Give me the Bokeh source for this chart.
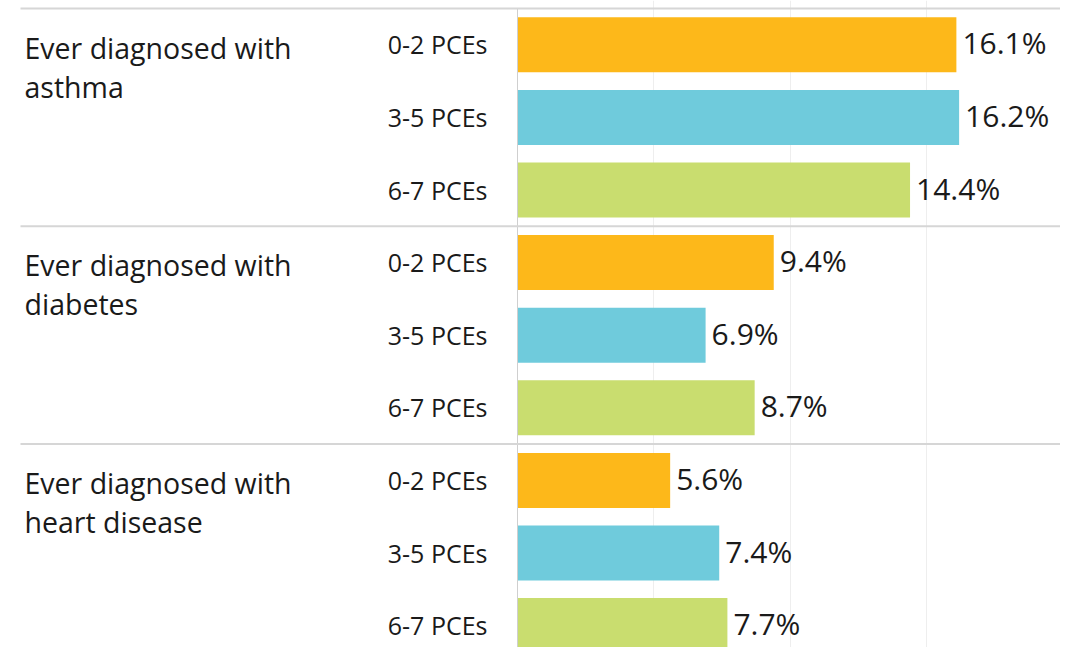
import textwrap
from bokeh.plotting import figure
from bokeh.models import Range1d, Grid, FixedTicker, ColumnDataSource
from bokeh.core.properties import value
from bokeh.embed import file_html
from bokeh.resources import INLINE

# ---- data ----
categories = ["Ever diagnosed with asthma",
              "Ever diagnosed with diabetes",
              "Ever diagnosed with heart disease"]
groups = ["0-2 PCEs", "3-5 PCEs", "6-7 PCEs"]
asthma = [16.1, 16.2, 14.4]
diabetes = [9.4, 6.9, 8.7]
heart_disease = [5.6, 7.4, 7.7]
grid_ticks = [5, 10, 15, 20]
colors = ["#FDB81A", "#6FCBDC", "#C9DD6F"]

series = [asthma, diabetes, heart_disease]

# ---- layout constants ----
W, H = 1060, 647
PX_PER_UNIT = 27.26
ZERO_PX = 517.0
ROW_PX = 72.6
TOP_PX = 8.0
x_start = -ZERO_PX / PX_PER_UNIT
x_end = (W - ZERO_PX) / PX_PER_UNIT
y_top = -TOP_PX / ROW_PX
y_bottom = (H - TOP_PX) / ROW_PX

FONT = "Open Sans"
TEXT_COLOR = "#1a1a1a"

p = figure(width=W, height=H, output_backend="svg", toolbar_location=None,
           x_range=Range1d(x_start, x_end), y_range=Range1d(y_bottom, y_top),
           x_axis_location=None, y_axis_location=None,
           min_border=0, min_border_left=0, min_border_right=0,
           min_border_top=0, min_border_bottom=0)
p.outline_line_color = None
p.grid.visible = False
p.background_fill_color = "white"
p.border_fill_color = "white"

p.add_layout(Grid(dimension=0, ticker=FixedTicker(ticks=grid_ticks),
                  grid_line_color="#eeeeee", grid_line_width=1))

# bars data
bar_y, bar_v, bar_c, bar_lbl, grp_lbl = [], [], [], [], []
for i, vals in enumerate(series):
    for j, v in enumerate(vals):
        bar_y.append(i * 3 + j + 0.5)
        bar_v.append(v)
        bar_c.append(colors[j])
        bar_lbl.append(f"{v:.1f}%")
        grp_lbl.append(groups[j])

src = ColumnDataSource(dict(y=bar_y, v=bar_v, c=bar_c, lbl=bar_lbl, grp=grp_lbl,
                            lx=[v + 6 / PX_PER_UNIT for v in bar_v],
                            ly=[y - 2 / ROW_PX for y in bar_y],
                            gy=[y - 0.5 / ROW_PX for y in bar_y]))

p.hbar(y="y", left=0, right="v", height=55 / ROW_PX, fill_color="c", line_color=None, source=src)

# axis line at zero
p.segment(x0=0, y0=0, x1=0, y1=y_bottom, line_color="#cfcfcf", line_width=1)

# separators
sep_x0 = (20 - ZERO_PX) / PX_PER_UNIT
for i in range(len(categories)):
    p.segment(x0=sep_x0, y0=i * 3, x1=x_end, y1=i * 3, line_color="#d6d6d6", line_width=2)

# value labels
p.text(x="lx", y="ly", text="lbl", source=src, text_font=value(FONT),
       text_font_size="30px", text_color=TEXT_COLOR, text_baseline="middle", text_align="left")

# group labels
p.text(x=(487 - ZERO_PX) / PX_PER_UNIT, y="gy", text="grp", source=src, text_font=value(FONT),
       text_font_size="25px", text_color=TEXT_COLOR, text_baseline="middle", text_align="right")

# category labels (wrapped)
cx = (24 - ZERO_PX) / PX_PER_UNIT
l1, l2, y1, y2 = [], [], [], []
for i, c in enumerate(categories):
    lines = textwrap.wrap(c, 19)
    l1.append(lines[0])
    l2.append(" ".join(lines[1:]))
    y1.append(i * 3 + 39 / ROW_PX)
    y2.append(i * 3 + 78 / ROW_PX)
p.text(x=cx, y=y1, text=l1, text_font=value(FONT), text_font_size="28.5px",
       text_color=TEXT_COLOR, text_baseline="middle", text_align="left")
p.text(x=cx, y=y2, text=l2, text_font=value(FONT), text_font_size="28.5px",
       text_color=TEXT_COLOR, text_baseline="middle", text_align="left")

open("out.html", "w").write(file_html(p, INLINE))
